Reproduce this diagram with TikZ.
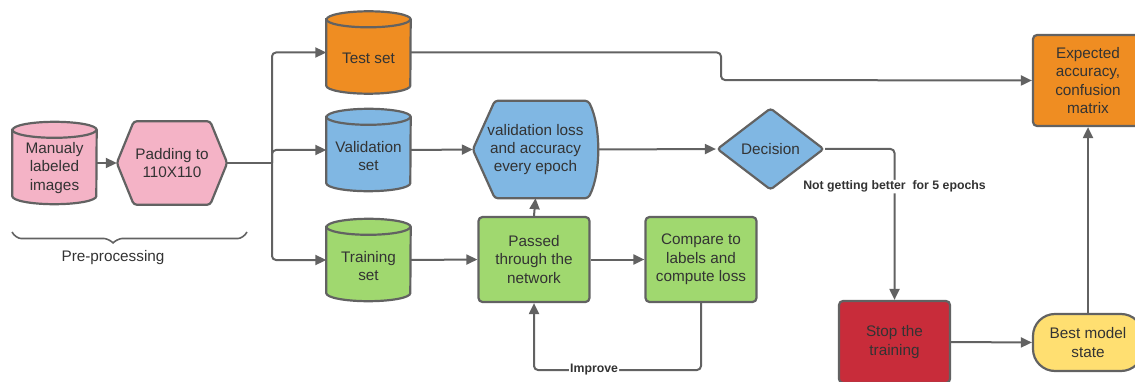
\documentclass[tikz,border=0pt]{standalone}
\usepackage{fontspec}
\setmainfont{Liberation Sans}
\usetikzlibrary{shapes.geometric,arrows.meta,decorations.pathreplacing,backgrounds}

\definecolor{lpink}{RGB}{244,179,198}
\definecolor{lorange}{RGB}{239,141,34}
\definecolor{lblue}{RGB}{128,183,227}
\definecolor{lgreen}{RGB}{160,216,111}
\definecolor{lred}{RGB}{200,44,58}
\definecolor{lyellow}{RGB}{255,223,113}
\definecolor{lline}{RGB}{98,98,98}
\definecolor{ltext}{RGB}{51,51,51}

\begin{document}
\begin{tikzpicture}[x=1pt,y=-1pt,
    every node/.style={text=ltext, font=\fontsize{15.3}{18.3}\selectfont, align=center, inner sep=0pt},
    box/.style={draw=lline, line width=2.2pt, rounded corners=4pt, minimum width=111pt, minimum height=85pt},
    db/.style={minimum width=84pt, minimum height=82pt},
    outline/.style={draw=lline, line width=2.2pt},
    link/.style={draw=lline, line width=2pt, rounded corners=4pt},
    flow/.style={link, -{Triangle[length=11pt,width=10pt]}},
    tag/.style={fill=white, font=\fontsize{12.3}{14}\bfseries\selectfont, inner sep=1pt}]
  \useasboundingbox (0,0) rectangle (1135,382);

  \node[db] (imgs) at (54.5,163) {};
  \node (imgstxt) at ([yshift=-5pt]imgs.center) {Manualy\\labeled\\images};
  \node[minimum width=110pt, minimum height=83pt] (pad) at (172,163) {Padding to\\110X110};
  \node[db] (test) at (368.5,52.5) {};
  \node (testtxt) at ([yshift=-6pt]test.center) {Test set};
  \node[db] (valid) at (368.5,150) {};
  \node (validtxt) at ([yshift=-6pt]valid.center) {Validation\\set};
  \node[db] (train) at (368.5,260) {};
  \node (traintxt) at ([yshift=-6pt]train.center) {Training\\set};
  \node[minimum width=125pt, minimum height=97pt] (vloss) at (535.5,149.5) {validation loss\\and accuracy\\every epoch};
  \node[diamond, outline, fill=lblue, rounded corners=3pt, minimum width=107pt, minimum height=82pt] (dec) at (770.5,149) {Decision};
  \node[box, fill=lgreen] (pass) at (534,259.5) {Passed\\through the\\network};
  \node[box, fill=lgreen] (comp) at (701,259.5) {Compare to\\labels and\\compute loss};
  \node[box, fill=lorange, minimum width=110pt, minimum height=91pt] (expect) at (1088,80.5) {Expected\\accuracy,\\confusion\\matrix};
  \node[box, fill=lred, minimum height=82pt] (stop) at (894.5,342) {Stop the\\training};
  \node[box, fill=lyellow, minimum width=110pt, minimum height=57pt, rounded corners=22pt] (best) at (1088,342.5) {Best model\\state};
  \node (prep) at (113,258) {Pre-processing};

  \begin{pgfonlayer}{background}
    \foreach \n/\c in {imgs/lpink, test/lorange, valid/lblue, train/lgreen} {
      \draw[outline, fill=\c] ([yshift=-8pt]\n.north west) -- ([yshift=8pt]\n.south west)
        arc[start angle=180, end angle=360, x radius=42pt, y radius=8pt]
        -- ([yshift=-8pt]\n.north east) arc[start angle=0, end angle=180, x radius=42pt, y radius=8pt] -- cycle;
      \draw[outline] ([yshift=-8pt]\n.north west) arc[start angle=180, end angle=360, x radius=42pt, y radius=8pt];
    }
    \draw[outline, fill=lpink, rounded corners=3pt] (pad.west) -- ([xshift=17pt]pad.north west) -- ([xshift=-17pt]pad.north east) -- (pad.east) -- ([xshift=-17pt]pad.south east) -- ([xshift=17pt]pad.south west) -- cycle;
    \draw[outline, fill=lblue, rounded corners=3pt] (vloss.west) -- ([xshift=22pt]vloss.north west) -- ([xshift=-10pt]vloss.north east)
      .. controls ([xshift=3pt,yshift=-25pt]vloss.north east) and ([xshift=3pt,yshift=25pt]vloss.south east) .. ([xshift=-10pt]vloss.south east)
      -- ([xshift=22pt]vloss.south west) -- cycle;
  \end{pgfonlayer}

  \coordinate (split) at (272,163);
  \coordinate (bend) at (721,80);
  \coordinate (loop) at (701,370);

  \draw[flow] (imgs.east) -- (pad.west);
  \draw[link] (pad.east) -- (split);
  \draw[flow] (split) |- (test.west);
  \draw[flow] (split) |- (valid.west);
  \draw[flow] (split) |- (train.west);
  \draw[flow] (test.east) -| (bend) -- (expect.west);
  \draw[flow] (valid.east) -- (vloss.west);
  \draw[flow] (vloss.east) -- (dec.west);
  \draw[flow] (dec.east) -| node[tag, pos=0.625] {Not getting better\ \ for 5 epochs} (stop.north);
  \draw[flow] (train.east) -- (pass.west);
  \draw[flow] (pass.east) -- (comp.west);
  \draw[flow] (pass.north) -- (vloss.south);
  \draw[flow] (comp.south) -- (loop) -| node[tag, pos=0.32] {Improve} (pass.south);
  \draw[flow] (stop.east) -- (best.west);
  \draw[flow] (best.north) -- (expect.south);
  \draw[link, line width=1.6pt, decorate, decoration={brace, mirror, amplitude=13pt, aspect=0.43}] (12,232) -- (247,232);
\end{tikzpicture}
\end{document}
